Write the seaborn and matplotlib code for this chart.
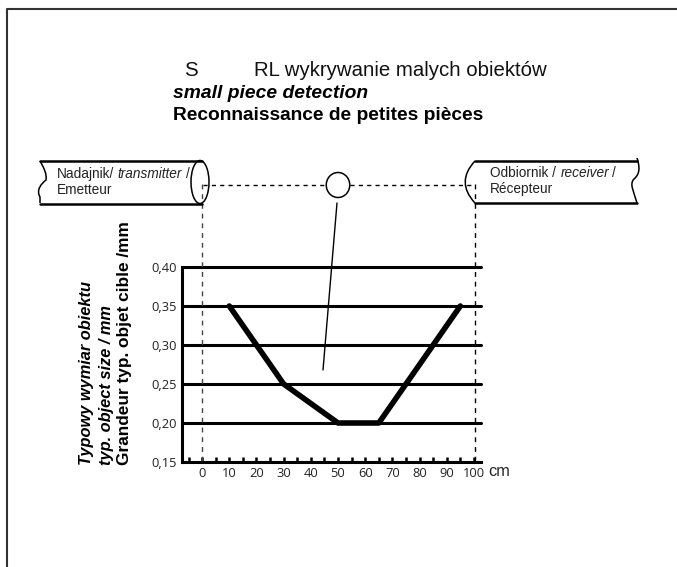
import matplotlib
matplotlib.use("Agg")
import pandas as pd
import seaborn as sns
import matplotlib.pyplot as plt
from matplotlib.patches import Ellipse, PathPatch
from matplotlib.path import Path

# datos de la curva
distancia_cm = [10, 30, 50, 65, 95]
tamano_mm = [0.35, 0.25, 0.20, 0.20, 0.35]
y_ticks = [0.15, 0.20, 0.25, 0.30, 0.35, 0.40]
y_labels = ["0,15", "0,20", "0,25", "0,30", "0,35", "0,40"]
x_ticks = [0, 10, 20, 30, 40, 50, 60, 70, 80, 90, 100]
x_minor = [-5, 5, 15, 25, 35, 45, 55, 65, 75, 85, 95]

sns.set_style("white")
plt.rcParams["font.family"] = ["Liberation Sans", "DejaVu Sans"]

W, H = 677, 567
fig = plt.figure(figsize=(W / 100, H / 100), dpi=100)
ax = fig.add_axes([182 / W, 1 - 462 / H, (481 - 182) / W, (462 - 267) / H])

df = pd.DataFrame({"cm": distancia_cm, "mm": tamano_mm})
for v in y_ticks[1:]:
    ax.axhline(v, color="black", lw=2.2, zorder=1, clip_on=False)
sns.lineplot(data=df, x="cm", y="mm", color="black", lw=4.0, ax=ax, zorder=2)

ax.set_xlim(-7.4, 102.6)
ax.set_ylim(0.15, 0.40)
ax.set_xticks(x_ticks)
ax.set_xticks(x_minor, minor=True)
ax.set_yticks(y_ticks)
ax.set_yticklabels(y_labels)
ax.set_xlabel("")
ax.set_ylabel("")
ax.tick_params(axis="x", which="both", direction="in", length=3.5, width=1.8, bottom=True,
               pad=3.5, color="black")
ax.tick_params(axis="x", labelsize=9.3, labelfontfamily="Open Sans", labelcolor="#222222")
ax.tick_params(axis="y", left=False, pad=0.5, labelsize=9.3, labelfontfamily="Open Sans",
               labelcolor="#222222")
sns.despine(ax=ax, top=True, right=True)
for s in ["left", "bottom"]:
    ax.spines[s].set_linewidth(2.2)
    ax.spines[s].set_color("black")

# capa de dibujo en pixeles para sensores y textos
ov = fig.add_axes([0, 0, 1, 1], facecolor="none")
ov.set_xlim(0, W)
ov.set_ylim(H, 0)
ov.axis("off")

# marco
ov.plot([6.5, 6.5, W], [H, 8.5, 8.5], color="#333333", lw=1.5, clip_on=False)

# lineas punteadas
ov.plot([203, 326], [184.5, 184.5], color="black", lw=1.0, dashes=(3, 3))
ov.plot([350, 475], [184.5, 184.5], color="black", lw=1.0, dashes=(3, 3))
ov.plot([202, 202], [184, 461], color="#444444", lw=1.0, dashes=(3.5, 3.5))
ov.plot([474.5, 474.5], [184, 461], color="black", lw=1.0, dashes=(3.5, 3.5))

# nadajnik
ov.plot([40, 202], [161, 161], color="black", lw=1.8)
ov.plot([40, 202], [203.5, 203.5], color="black", lw=1.8)
ov.add_patch(Ellipse((200, 182), 18, 43, fill=False, ec="black", lw=1.1))
izq = Path([(40, 161), (44, 168), (47, 174), (46, 180), (41, 184), (36, 190), (40, 197), (40, 203)],
           [Path.MOVETO] + [Path.CURVE4] * 6 + [Path.LINETO])
ov.add_patch(PathPatch(izq, fill=False, ec="black", lw=1.1))

# odbiornik
ov.plot([475, 637], [161, 161], color="black", lw=1.8)
ov.plot([475, 637], [202.5, 202.5], color="black", lw=1.8)
arco = Path([(475, 161), (462, 175), (462, 189), (475, 203)], [Path.MOVETO] + [Path.CURVE4] * 3)
ov.add_patch(PathPatch(arco, fill=False, ec="black", lw=1.1))
der = Path([(637, 158), (640, 167), (640, 174), (634, 179), (629, 184), (634, 192), (637, 203)],
           [Path.MOVETO] + [Path.CURVE4] * 6)
ov.add_patch(PathPatch(der, fill=False, ec="black", lw=1.1))

# objeto y su linea
ov.add_patch(Ellipse((338, 185), 23.5, 25, fill=False, ec="black", lw=1.1))
ov.plot([337, 323], [203, 370], color="black", lw=1.0)

# textos
ov.text(184, 70, "S", fontsize=14.7, va="center", color="#111111")
ov.text(254, 70, "RL wykrywanie malych obiektów", fontsize=14.7, va="center", color="#111111")
ov.text(173, 93, "small piece detection", fontsize=13.9, va="center", weight="bold", style="italic",
        color="black")
ov.text(173, 115, "Reconnaissance de petites pièces", fontsize=13.8, va="center", weight="bold",
        color="black")

ov.text(57, 174, "Nadajnik/", fontsize=9.8, va="center", color="#222222")
ov.text(117, 174, "transmitter", fontsize=9.8, va="center", style="italic", color="#222222")
ov.text(186, 174, "/", fontsize=9.8, va="center", color="#222222")
ov.text(57, 190, "Emetteur", fontsize=9.8, va="center", color="#222222")

ov.text(490, 173, "Odbiornik /", fontsize=9.8, va="center", color="#222222")
ov.text(561, 173, "receiver", fontsize=9.8, va="center", style="italic", color="#222222")
ov.text(612, 173, "/", fontsize=9.8, va="center", color="#222222")
ov.text(490, 189, "Récepteur", fontsize=9.8, va="center", color="#222222")

ov.text(86, 465, "Typowy wymiar obiektu", fontsize=11.8, weight="bold", style="italic", rotation=90,
        ha="center", va="bottom", color="black")
ov.text(106, 465, "typ. object size / mm", fontsize=11.8, weight="bold", style="italic", rotation=90,
        ha="center", va="bottom", color="black")
ov.text(125, 465, "Grandeur typ. objet cible /mm", fontsize=12.4, weight="bold", rotation=90,
        ha="center", va="bottom", color="black")

ov.text(488, 471, "cm", fontsize=11.7, va="center", color="#222222")

fig.savefig("out.png", dpi=100)
